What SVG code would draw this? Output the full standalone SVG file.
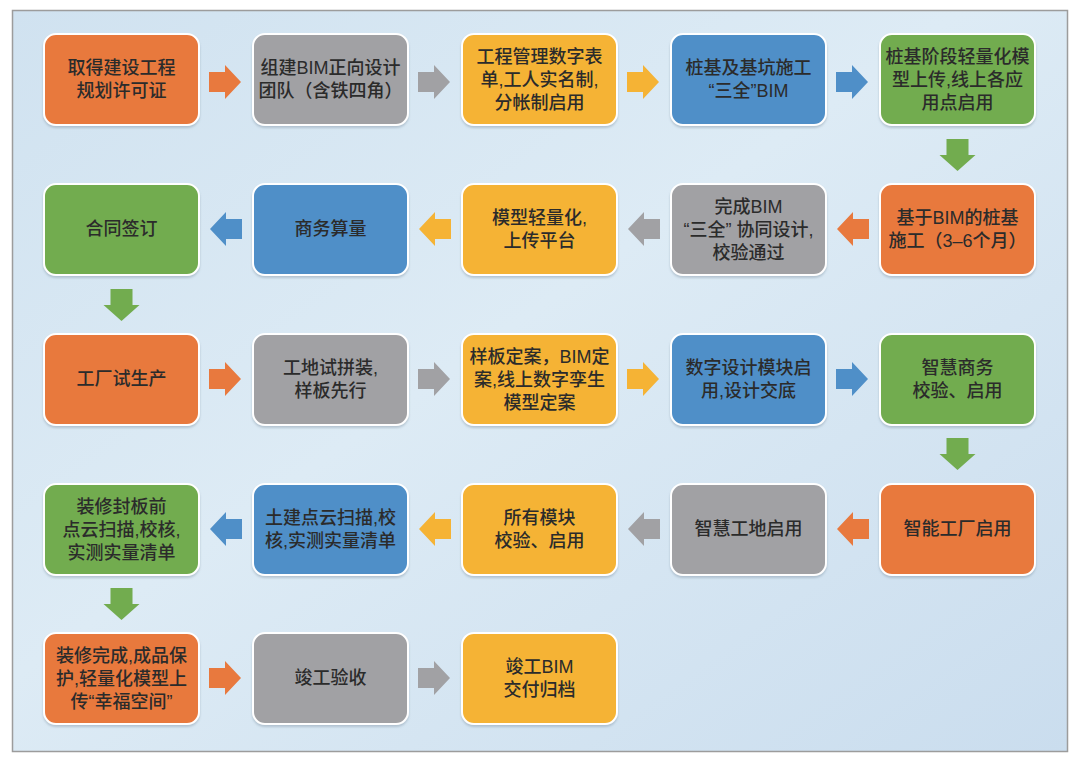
<svg xmlns="http://www.w3.org/2000/svg" width="1080" height="763" viewBox="0 0 1080 763">
<defs>
<linearGradient id="bg" x1="0" y1="0" x2="1" y2="1">
<stop offset="0" stop-color="#D0E2F0"/>
<stop offset="0.45" stop-color="#DDEBF5"/>
<stop offset="1" stop-color="#CADDEE"/>
</linearGradient>
<filter id="sh" x="-10%" y="-10%" width="120%" height="130%">
<feDropShadow dx="0" dy="2" stdDeviation="1.2" flood-color="#6a7f90" flood-opacity="0.35"/>
</filter>
<path id="ar" d="M0,-10 H16 V-17 L32,0 L16,17 V10 H0 Z"/>
<path id="ad" d="M-11,0 H11 V16 H18 L0,32 L-18,16 H-11 Z"/>
</defs>
<style>
.n rect{stroke:#fff;stroke-width:2;filter:url(#sh)}
.o{fill:#E8793E}.g{fill:#A1A1A4}.y{fill:#F5B335}.b{fill:#4F8FC8}.gr{fill:#72AC4F}
text{font-family:"Liberation Sans","Noto Sans CJK SC",sans-serif;font-size:18px;font-weight:500;fill:#2b2b2b;text-anchor:middle}
</style>
<rect x="0" y="0" width="1080" height="763" fill="#fff"/>
<rect x="12.5" y="10.5" width="1055" height="741" fill="url(#bg)" stroke="#9C9C9C" stroke-width="1.5"/>
<g id="connectors">
<use href="#ar" class="o" x="209" y="82"/>
<use href="#ar" class="g" x="418" y="82"/>
<use href="#ar" class="y" x="627" y="82"/>
<use href="#ar" class="b" x="836" y="82"/>
<use href="#ad" class="gr" x="957.5" y="139"/>
<use href="#ar" class="o" transform="translate(869,229) scale(-1,1)"/>
<use href="#ar" class="g" transform="translate(660,229) scale(-1,1)"/>
<use href="#ar" class="y" transform="translate(451,229) scale(-1,1)"/>
<use href="#ar" class="b" transform="translate(242,229) scale(-1,1)"/>
<use href="#ad" class="gr" x="121.5" y="289"/>
<use href="#ar" class="o" x="209" y="379"/>
<use href="#ar" class="g" x="418" y="379"/>
<use href="#ar" class="y" x="627" y="379"/>
<use href="#ar" class="b" x="836" y="379"/>
<use href="#ad" class="gr" x="957.5" y="438"/>
<use href="#ar" class="o" transform="translate(869,529) scale(-1,1)"/>
<use href="#ar" class="g" transform="translate(660,529) scale(-1,1)"/>
<use href="#ar" class="y" transform="translate(451,529) scale(-1,1)"/>
<use href="#ar" class="b" transform="translate(242,529) scale(-1,1)"/>
<use href="#ad" class="gr" x="121.5" y="588"/>
<use href="#ar" class="o" x="209" y="678"/>
<use href="#ar" class="g" x="418" y="678"/>
</g>
<g id="n1" class="n"><rect class="o" x="44" y="34" width="155" height="91" rx="12"/><text x="121.5" y="74">取得建设工程</text><text x="121.5" y="97">规划许可证</text></g>
<g id="n2" class="n"><rect class="g" x="253" y="34" width="155" height="91" rx="12"/><text x="330.5" y="74">组建BIM正向设计</text><text x="330.5" y="97">团队（含铁四角）</text></g>
<g id="n3" class="n"><rect class="y" x="462" y="34" width="155" height="91" rx="12"/><text x="539.5" y="63">工程管理数字表</text><text x="539.5" y="86">单,工人实名制,</text><text x="539.5" y="109">分帐制启用</text></g>
<g id="n4" class="n"><rect class="b" x="671" y="34" width="155" height="91" rx="12"/><text x="748.5" y="74">桩基及基坑施工</text><text x="748.5" y="97">“三全”BIM</text></g>
<g id="n5" class="n"><rect class="gr" x="880" y="34" width="155" height="91" rx="12"/><text x="957.5" y="63">桩基阶段轻量化模</text><text x="957.5" y="86">型上传,线上各应</text><text x="957.5" y="109">用点启用</text></g>
<g id="n6" class="n"><rect class="o" x="880" y="184" width="155" height="91" rx="12"/><text x="957.5" y="224">基于BIM的桩基</text><text x="957.5" y="247">施工（3–6个月）</text></g>
<g id="n7" class="n"><rect class="g" x="671" y="184" width="155" height="91" rx="12"/><text x="748.5" y="213">完成BIM</text><text x="748.5" y="236">“三全” 协同设计,</text><text x="748.5" y="259">校验通过</text></g>
<g id="n8" class="n"><rect class="y" x="462" y="184" width="155" height="91" rx="12"/><text x="539.5" y="224">模型轻量化,</text><text x="539.5" y="247">上传平台</text></g>
<g id="n9" class="n"><rect class="b" x="253" y="184" width="155" height="91" rx="12"/><text x="330.5" y="235">商务算量</text></g>
<g id="n10" class="n"><rect class="gr" x="44" y="184" width="155" height="91" rx="12"/><text x="121.5" y="235">合同签订</text></g>
<g id="n11" class="n"><rect class="o" x="44" y="334" width="155" height="91" rx="12"/><text x="121.5" y="385">工厂试生产</text></g>
<g id="n12" class="n"><rect class="g" x="253" y="334" width="155" height="91" rx="12"/><text x="330.5" y="374">工地试拼装,</text><text x="330.5" y="397">样板先行</text></g>
<g id="n13" class="n"><rect class="y" x="462" y="334" width="155" height="91" rx="12"/><text x="539.5" y="363">样板定案，BIM定</text><text x="539.5" y="386">案,线上数字孪生</text><text x="539.5" y="409">模型定案</text></g>
<g id="n14" class="n"><rect class="b" x="671" y="334" width="155" height="91" rx="12"/><text x="748.5" y="374">数字设计模块启</text><text x="748.5" y="397">用,设计交底</text></g>
<g id="n15" class="n"><rect class="gr" x="880" y="334" width="155" height="91" rx="12"/><text x="957.5" y="374">智慧商务</text><text x="957.5" y="397">校验、启用</text></g>
<g id="n16" class="n"><rect class="o" x="880" y="484" width="155" height="91" rx="12"/><text x="957.5" y="535">智能工厂启用</text></g>
<g id="n17" class="n"><rect class="g" x="671" y="484" width="155" height="91" rx="12"/><text x="748.5" y="535">智慧工地启用</text></g>
<g id="n18" class="n"><rect class="y" x="462" y="484" width="155" height="91" rx="12"/><text x="539.5" y="524">所有模块</text><text x="539.5" y="547">校验、启用</text></g>
<g id="n19" class="n"><rect class="b" x="253" y="484" width="155" height="91" rx="12"/><text x="330.5" y="524">土建点云扫描,校</text><text x="330.5" y="547">核,实测实量清单</text></g>
<g id="n20" class="n"><rect class="gr" x="44" y="484" width="155" height="91" rx="12"/><text x="121.5" y="513">装修封板前</text><text x="121.5" y="536">点云扫描,校核,</text><text x="121.5" y="559">实测实量清单</text></g>
<g id="n21" class="n"><rect class="o" x="44" y="633" width="155" height="91" rx="12"/><text x="121.5" y="662">装修完成,成品保</text><text x="121.5" y="685">护,轻量化模型上</text><text x="121.5" y="708">传“幸福空间”</text></g>
<g id="n22" class="n"><rect class="g" x="253" y="633" width="155" height="91" rx="12"/><text x="330.5" y="684">竣工验收</text></g>
<g id="n23" class="n"><rect class="y" x="462" y="633" width="155" height="91" rx="12"/><text x="539.5" y="673">竣工BIM</text><text x="539.5" y="696">交付归档</text></g>
</svg>
